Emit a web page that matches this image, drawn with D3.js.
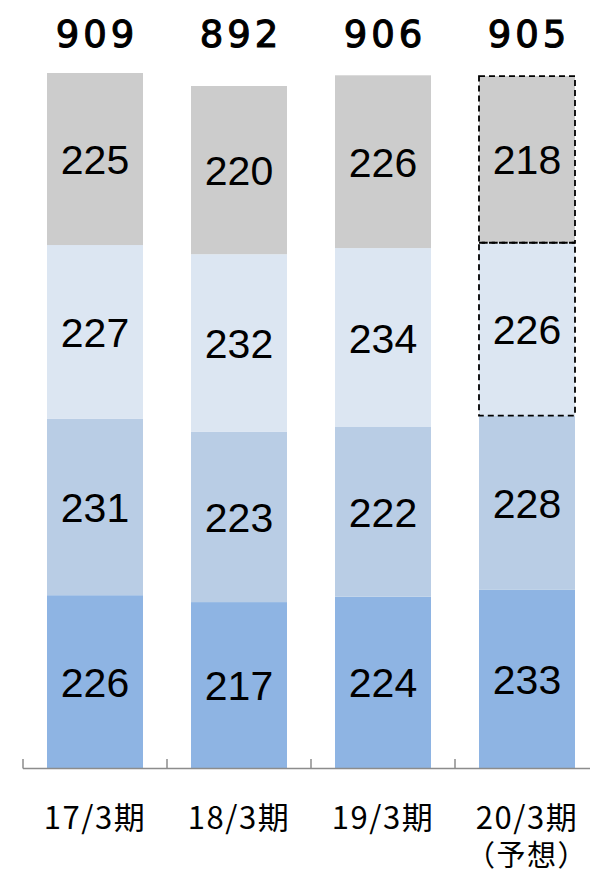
<!DOCTYPE html>
<html>
<head>
<meta charset="utf-8">
<script src="https://cdn.jsdelivr.net/npm/d3@7"></script>
<style>
    body { margin: 0; background: #fff; }
    svg { display: block; }
</style>
</head>
<body>
<div id="chart"></div>
<script>

// periods (x categories), second label line for forecast
const periods = ["17/3期", "18/3期", "19/3期", "20/3期"];
const periodSub = ["", "", "", "（予想）"];

// stacked segments, bottom to top
const seriesNames = ["s1", "s2", "s3", "s4"];
const s1 = [226, 217, 224, 233];
const s2 = [231, 223, 222, 228];
const s3 = [227, 232, 234, 226];
const s4 = [225, 220, 226, 218];
const totals = [909, 892, 906, 905];

// which bars have dashed (forecast) segments: [periodIndex, seriesIndex]
const dashedCells = [[3, 2], [3, 3]];

const colours = ["#8eb4e3", "#b9cde5", "#dce6f2", "#cccccc"];

var svgWidth = 590,
    svgHeight = 877;

var svg = d3.select("#chart").append("svg")
    .attr("width", svgWidth)
    .attr("height", svgHeight);

var rows = periods.map( (p, i) => ({ period : p, s1 : s1[i], s2 : s2[i], s3 : s3[i], s4 : s4[i] }) );
var stacked = d3.stack().keys( seriesNames )( rows );

var xscale = d3.scaleBand()
    .domain( periods )
    .range( [23, 23 + 144 * 4] )
    .paddingInner( 1/3 )
    .paddingOuter( 1/6 );

var yscale = d3.scaleLinear()
    .domain( [0, 909] )
    .range( [768, 73] );

// bars
var layers = svg.selectAll( ".layer" )
    .data( stacked )
    .enter().append( "g" )
        .attr( "class", "layer" )
        .style( "fill", (d, i) => colours[i] );

layers.selectAll( "rect" )
    .data( d => d )
    .enter().append( "rect" )
        .attr( "x", d => xscale( d.data.period ) )
        .attr( "y", d => yscale( d[1] ) )
        .attr( "width", xscale.bandwidth() )
        .attr( "height", d => yscale( d[0] ) - yscale( d[1] ) );

// dashed outlines on forecast segments
svg.selectAll( ".dashed" )
    .data( dashedCells )
    .enter().append( "rect" )
        .attr( "class", "dashed" )
        .attr( "x", d => xscale( periods[d[0]] ) )
        .attr( "y", d => yscale( stacked[d[1]][d[0]][1] ) )
        .attr( "width", xscale.bandwidth() )
        .attr( "height", d => yscale( stacked[d[1]][d[0]][0] ) - yscale( stacked[d[1]][d[0]][1] ) )
        .style( "fill", "none" )
        .style( "stroke", "#000" )
        .style( "stroke-width", 1.8 )
        .style( "stroke-dasharray", "6,4" );

// segment values
layers.selectAll( "text" )
    .data( d => d )
    .enter().append( "text" )
        .attr( "x", d => xscale( d.data.period ) + xscale.bandwidth() / 2 )
        .attr( "y", d => ( yscale( d[0] ) + yscale( d[1] ) ) / 2 + 15 )
        .attr( "text-anchor", "middle" )
        .style( "font-family", "'Liberation Sans', Arial, sans-serif" )
        .style( "font-size", "41px" )
        .style( "fill", "#000" )
        .text( d => d[1] - d[0] );

// totals
svg.selectAll( ".total" )
    .data( totals )
    .enter().append( "text" )
        .attr( "class", "total" )
        .attr( "x", (d, i) => xscale( periods[i] ) + xscale.bandwidth() / 2 + 2 )
        .attr( "y", 47 )
        .attr( "text-anchor", "middle" )
        .style( "font-family", "'DejaVu Sans', sans-serif" )
        .style( "font-size", "37px" )
        .style( "letter-spacing", "4px" )
        .style( "fill", "#000" )
        .style( "stroke", "#000" )
        .style( "stroke-width", 1.1 )
        .text( d => d );

// x axis: ticks between categories pointing up
var step = xscale.step();
var tickX = periods.map( (p, i) => xscale.range()[0] + i * step );

var gX = svg.append( "g" ).attr( "class", "axis--x" );
gX.append( "line" )
    .attr( "x1", xscale.range()[0] )
    .attr( "x2", svgWidth )
    .attr( "y1", yscale(0) + 0.5 )
    .attr( "y2", yscale(0) + 0.5 )
    .style( "stroke", "#8c8c8c" )
    .style( "stroke-width", 1.5 );
gX.selectAll( ".tick" )
    .data( tickX )
    .enter().append( "line" )
        .attr( "class", "tick" )
        .attr( "x1", d => d )
        .attr( "x2", d => d )
        .attr( "y1", yscale(0) - 9 )
        .attr( "y2", yscale(0) + 0.5 )
        .style( "stroke", "#8c8c8c" )
        .style( "stroke-width", 1.5 );

// category labels, second line as tspan
var labels = gX.selectAll( ".lbl" )
    .data( periods )
    .enter().append( "text" )
        .attr( "class", "lbl" )
        .attr( "text-anchor", "middle" )
        .style( "font-family", "'Noto Sans CJK JP', sans-serif" )
        .style( "font-size", "31px" )
        .style( "letter-spacing", "1.5px" )
        .style( "fill", "#000" );
labels.append( "tspan" )
    .attr( "x", d => xscale( d ) + xscale.bandwidth() / 2 )
    .attr( "y", 829 )
    .text( d => d );
labels.filter( (d, i) => periodSub[i] !== "" )
    .append( "tspan" )
        .attr( "x", d => xscale( d ) + xscale.bandwidth() / 2 )
        .attr( "y", 866 )
        .style( "font-size", "29px" )
        .text( (d) => periodSub[periods.indexOf(d)] );

</script>
</body>
</html>
